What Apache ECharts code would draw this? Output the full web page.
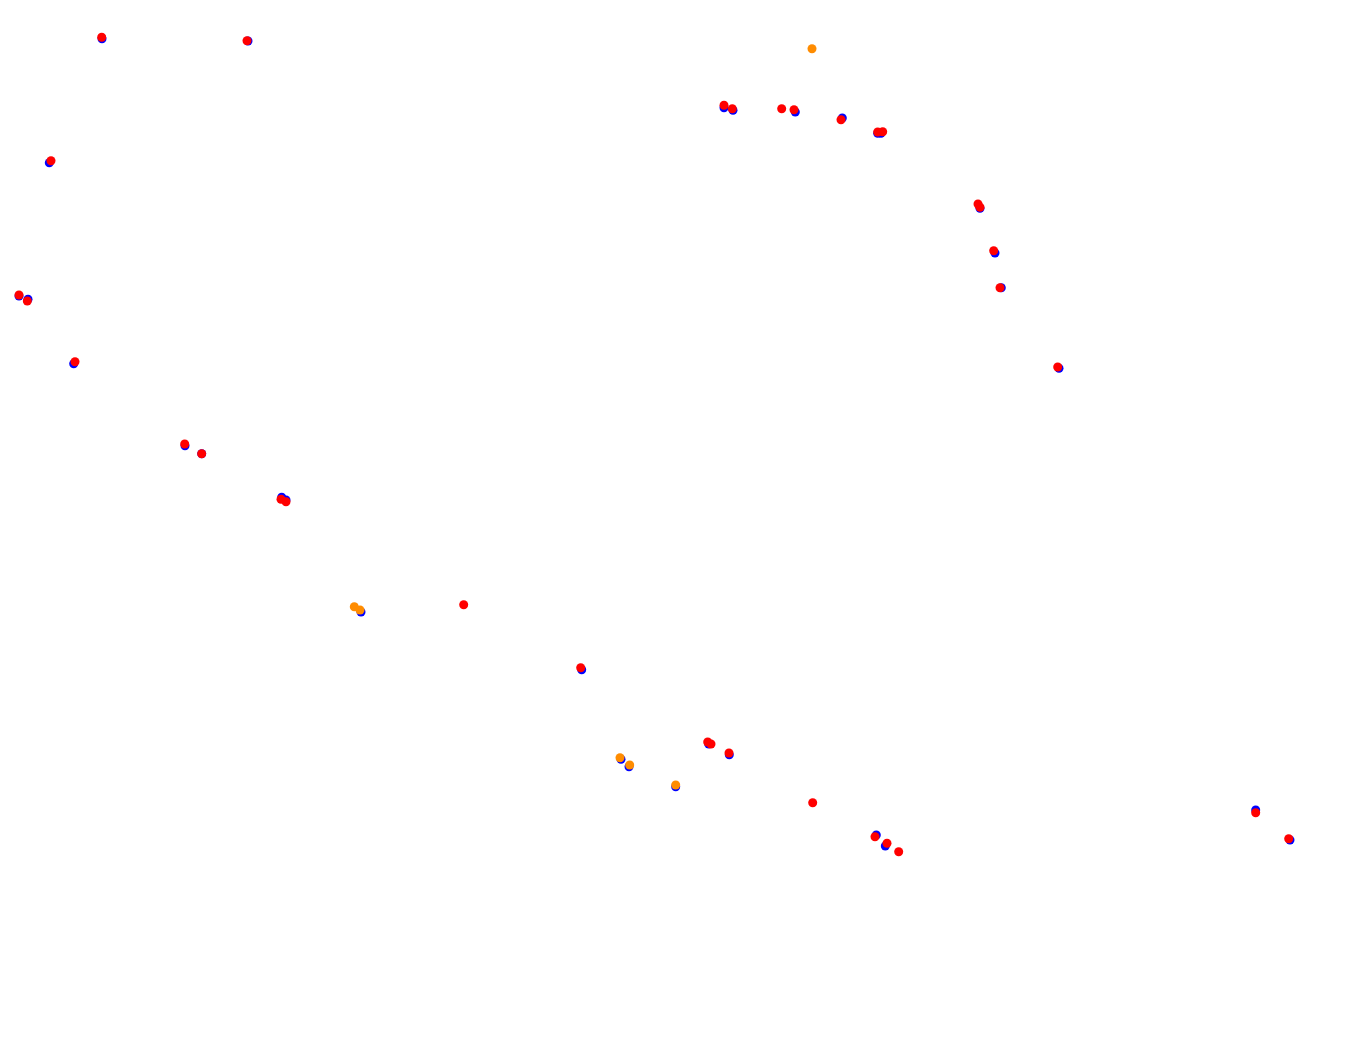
<!DOCTYPE html>
<html>
<head>
<meta charset="utf-8">
<script src="https://cdn.jsdelivr.net/npm/echarts@6/dist/echarts.min.js"></script>
<style>html,body{margin:0;padding:0;background:#fff;}#c{width:1359px;height:1064px;}</style>
</head>
<body>
<div id="c"></div>
<script>
// Values (x, y in plot units; y grows downward)
const blueX = [102, 248, 49.3, 19, 28, 73.7, 185, 201.7, 281.7, 286, 361, 581.7, 708.7, 729.3, 621, 629, 675.7, 724, 733, 795.3, 842.3, 877.7, 881, 980, 995, 1001.3, 1059, 876.3, 885.3, 1255.7, 1290];
const blueY = [38.7, 41, 162.7, 296, 299.3, 363.7, 445.7, 453.7, 497.3, 500, 612, 669.7, 744, 754.7, 759.3, 766.7, 786.7, 107.7, 110.3, 112, 118, 133.3, 133.3, 208.3, 253, 287.7, 368.3, 835, 846, 810, 840];

const orangeX = [354.3, 360, 620, 629.7, 675.7, 812];
const orangeY = [606.7, 610, 757.7, 765, 785, 48.7];

const redX = [101.7, 247, 51, 19, 27.3, 75, 184.7, 201.7, 281, 286, 463.7, 580.7, 707.7, 711, 729, 724, 732.3, 781.7, 794, 841, 877.7, 882.7, 978, 980, 993.7, 1000, 1057.7, 812.7, 875, 887, 898.7, 1255.7, 1288.7];
const redY = [37.3, 40.7, 160.7, 295, 301, 361.7, 444, 453.7, 499.3, 501.7, 604.7, 667.7, 742, 744, 753, 105.3, 108.7, 108.7, 109.7, 119.7, 132, 131.7, 204, 207.3, 250.7, 287.7, 367, 802.7, 836.7, 843.3, 851.7, 812.7, 838.7];

function pairs(xs, ys) { return xs.map((x, i) => [x, ys[i]]); }

const chart = echarts.init(document.getElementById('c'), null, {renderer: 'canvas'});
chart.setOption({
  animation: false,
  backgroundColor: '#ffffff',
  grid: {left: 0, right: 0, top: 0, bottom: 0},
  xAxis: {type: 'value', min: 0, max: 1359, show: false},
  yAxis: {type: 'value', min: 0, max: 1064, inverse: true, show: false},
  series: [
    {type: 'scatter', data: pairs(blueX, blueY), symbolSize: 9, itemStyle: {color: '#0000ff', opacity: 1}, z: 1},
    {type: 'scatter', data: pairs(orangeX, orangeY), symbolSize: 9, itemStyle: {color: '#ff8c00', opacity: 1}, z: 2},
    {type: 'scatter', data: pairs(redX, redY), symbolSize: 9, itemStyle: {color: '#ff0000', opacity: 1}, z: 3}
  ]
});
</script>
</body>
</html>
